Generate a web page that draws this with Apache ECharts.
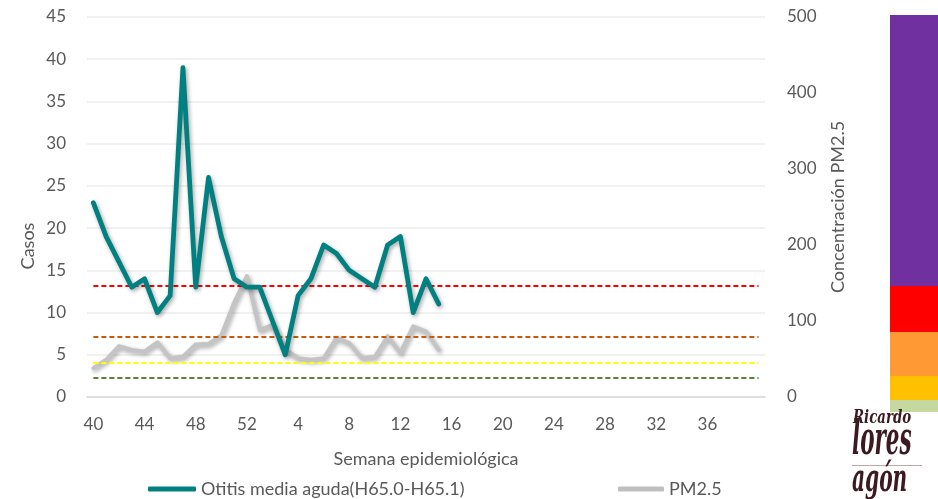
<!DOCTYPE html>
<html>
<head>
<meta charset="utf-8">
<script src="https://cdn.jsdelivr.net/npm/echarts@6/dist/echarts.min.js"></script>
<style>
  html, body { margin: 0; padding: 0; background: #ffffff; }
  #chart { width: 938px; height: 499px; }
</style>
</head>
<body>
<div id="chart"></div>
<script>
// Epidemiological weeks (season starting at week 40)
const weeks = ['40','41','42','43','44','45','46','47','48','49','50','51','52',
  '1','2','3','4','5','6','7','8','9','10','11','12','13','14','15','16','17','18','19','20',
  '21','22','23','24','25','26','27','28','29','30','31','32','33','34','35','36','37','38','39','40'];

// Weekly cases of acute otitis media
const otitisCases = [23, 19, 16, 13, 14, 10, 12, 39, 13, 26, 19, 14, 13,
  13, 9, 5, 12, 14, 18, 17, 15, 14, 13, 18, 19, 10, 14, 11];

// Weekly PM2.5 concentration
const pm25 = [38, 49, 67, 62, 60, 72, 51, 53, 69, 70, 81, 124, 159,
  88, 95, 62, 51, 49, 51, 78, 71, 51, 53, 80, 58, 93, 86, 62];

// Air-quality thresholds for PM2.5 (right axis)
const pmThresholds = [25, 45, 79, 147];
const thresholdColors = ['#548235', '#ffff00', '#c55a11', '#ff0000'];

// Air-quality colour scale shown at the right edge
const aqiBandNames = ['Buena', 'Aceptable', 'Mala', 'Muy mala', 'Extremadamente mala'];
const aqiBandSpan = [12, 24, 44, 46, 271];
const aqiBandColors = ['#c5d89f', '#ffc000', '#ff9933', '#ff0000', '#7030a0'];

const leftTicks = { min: 0, max: 45, interval: 5 };
const rightTicks = { min: 0, max: 500, interval: 100 };

const FONT = 'Lato';
const TEXT = '#595959';
const LOGO = '#3b1a22';
const LOGO_FONT = '"DejaVu Serif Condensed"';

const chart = echarts.init(document.getElementById('chart'), null, { renderer: 'canvas' });

const lineShadow = {
  shadowColor: 'rgba(0,0,0,0.35)',
  shadowBlur: 4,
  shadowOffsetX: 1.5,
  shadowOffsetY: 2
};

const thresholdLines = pmThresholds.map((v, i) => [
  { coord: [0, v], lineStyle: { color: thresholdColors[i] } },
  { coord: [weeks.length - 1, v] }
]);

const bandSeries = aqiBandNames.map((name, i) => ({
  name: name,
  type: 'bar',
  stack: 'aqi',
  xAxisIndex: 1,
  yAxisIndex: 2,
  barWidth: '100%',
  silent: true,
  itemStyle: { color: aqiBandColors[i] },
  data: [aqiBandSpan[i]]
}));

chart.setOption({
  animation: false,
  backgroundColor: '#ffffff',
  textStyle: { fontFamily: FONT },
  grid: [
    { left: 87, right: 173, top: 17, bottom: 102, containLabel: false },
    { left: 890, width: 60, top: 15, height: 397, containLabel: false }
  ],
  legend: [
    {
      data: ['Otitis media aguda(H65.0-H65.1)'],
      left: 143, top: 475,
      icon: 'roundRect', itemWidth: 48, itemHeight: 5,
      textStyle: { color: TEXT, fontSize: 18, fontFamily: FONT }
    },
    {
      data: ['PM2.5'],
      left: 613, top: 475,
      icon: 'roundRect', itemWidth: 46, itemHeight: 5,
      textStyle: { color: TEXT, fontSize: 18, fontFamily: FONT }
    }
  ],
  xAxis: [
    {
      type: 'category',
      gridIndex: 0,
      data: weeks,
      boundaryGap: true,
      name: 'Semana epidemiológica',
      nameLocation: 'middle',
      nameGap: 53,
      nameTextStyle: { color: TEXT, fontSize: 18, fontFamily: FONT },
      axisLine: { lineStyle: { color: '#d9d9d9', width: 1.5 } },
      axisTick: { show: false },
      axisLabel: {
        color: TEXT, fontSize: 17, fontFamily: FONT, margin: 19,
        interval: (index) => index % 4 === 0 && index < weeks.length - 1
      },
      splitLine: { show: false }
    },
    {
      type: 'category',
      gridIndex: 1,
      data: ['AQI'],
      show: false
    }
  ],
  yAxis: [
    {
      type: 'value',
      gridIndex: 0,
      min: leftTicks.min, max: leftTicks.max, interval: leftTicks.interval,
      axisLine: { show: false },
      axisTick: { show: false },
      axisLabel: { color: TEXT, fontSize: 17, fontFamily: FONT, margin: 21 },
      splitLine: { lineStyle: { color: '#ececec', width: 1.5 } }
    },
    {
      type: 'value',
      gridIndex: 0,
      position: 'right',
      min: rightTicks.min, max: rightTicks.max, interval: rightTicks.interval,
      name: 'Concentración PM2.5',
      nameLocation: 'middle',
      nameRotate: 90,
      nameGap: 64,
      nameTextStyle: { color: TEXT, fontSize: 18, fontFamily: FONT },
      axisLine: { show: false },
      axisTick: { show: false },
      axisLabel: { color: TEXT, fontSize: 17, fontFamily: FONT, margin: 22 },
      splitLine: { show: false }
    },
    {
      type: 'value',
      gridIndex: 1,
      min: 0,
      max: aqiBandSpan.reduce((a, b) => a + b, 0),
      show: false,
      splitLine: { show: false }
    }
  ],
  graphic: [
    {
      type: 'text',
      x: 28, y: 246,
      rotation: Math.PI / 2,
      style: {
        text: 'Casos',
        fill: TEXT,
        font: '18px ' + FONT,
        textAlign: 'center',
        textVerticalAlign: 'middle'
      }
    },
    {
      type: 'text',
      x: 853, y: 418,
      scaleX: 0.78,
      z: 10,
      style: {
        text: 'Ricardo',
        fill: LOGO,
        font: 'italic bold 19px ' + LOGO_FONT,
        textAlign: 'left',
        textVerticalAlign: 'middle'
      }
    },
    {
      type: 'rect',
      shape: { x: 852, y: 465, width: 70, height: 1 },
      style: { fill: '#b9a9ab' },
      silent: true
    },
    {
      type: 'text',
      x: 852, y: 442,
      scaleX: 0.52,
      style: {
        text: 'lores',
        fill: LOGO,
        font: 'italic bold 46px ' + LOGO_FONT,
        textAlign: 'left',
        textVerticalAlign: 'middle'
      }
    },
    {
      type: 'text',
      x: 852, y: 481,
      scaleX: 0.56,
      style: {
        text: 'agón',
        fill: LOGO,
        font: 'italic bold 40px ' + LOGO_FONT,
        textAlign: 'left',
        textVerticalAlign: 'middle'
      }
    }
  ],
  series: [
    {
      name: 'Otitis media aguda(H65.0-H65.1)',
      type: 'line',
      xAxisIndex: 0,
      yAxisIndex: 0,
      data: otitisCases,
      symbol: 'none',
      color: '#008080',
      lineStyle: Object.assign({ color: '#008080', width: 4.8, cap: 'round', join: 'round' }, lineShadow),
      z: 5
    },
    {
      name: 'PM2.5',
      type: 'line',
      xAxisIndex: 0,
      yAxisIndex: 1,
      data: pm25,
      symbol: 'none',
      color: '#bfbfbf',
      lineStyle: Object.assign({ color: '#c4c4c4', width: 4, cap: 'round', join: 'round' }, lineShadow),
      z: 4,
      markLine: {
        silent: true,
        symbol: ['none', 'none'],
        label: { show: false },
        lineStyle: { type: [5, 3], width: 2 },
        data: thresholdLines
      }
    }
  ].concat(bandSeries)
});
</script>
</body>
</html>
